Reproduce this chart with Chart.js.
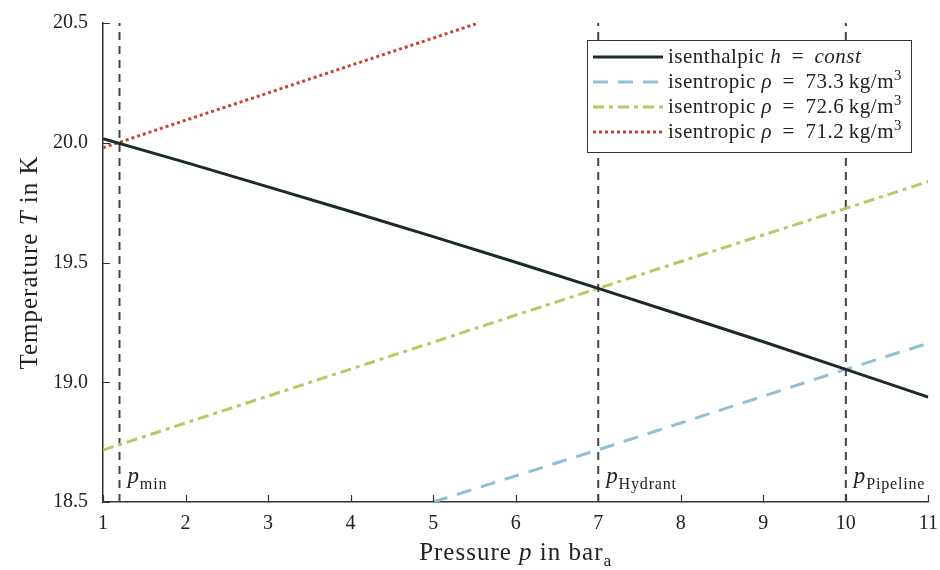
<!DOCTYPE html>
<html>
<head>
<meta charset="utf-8">
<script src="https://cdn.jsdelivr.net/npm/chart.js@4.4.0/dist/chart.umd.min.js"></script>
<style>
  html, body { margin: 0; padding: 0; background: #fff; }
  #wrap { width: 940px; height: 570px; }
</style>
</head>
<body>
<div id="wrap"><canvas id="myChart" width="940" height="570"></canvas></div>
<script>
// pressure in bar_a, temperature in K
const pressures = [1, 2, 3, 4, 5, 6, 7, 8, 9, 10, 11];
const isenthalpic = [20.017, 19.918, 19.816, 19.713, 19.608, 19.501, 19.392, 19.281, 19.169, 19.054, 18.938];

const p733 = [5, 6, 7, 8, 9, 10, 11];
const rho733 = [18.500, 18.609, 18.718, 18.830, 18.942, 19.054, 19.163];

const p726 = [1, 2, 3, 4, 5, 6, 7, 8, 9, 10, 11];
const rho726 = [18.717, 18.830, 18.942, 19.055, 19.167, 19.280, 19.392, 19.504, 19.615, 19.726, 19.838];

const p712 = [1, 2, 3, 4, 5, 5.55];
const rho712 = [19.979, 20.094, 20.208, 20.323, 20.437, 20.5];

const markPressures = [1.2, 7, 10];
const markNames = ['min', 'Hydrant', 'Pipeline'];

const xTicks = [1, 2, 3, 4, 5, 6, 7, 8, 9, 10, 11];
const yTicks = [18.5, 19.0, 19.5, 20.0, 20.5];

const FONT = '"Liberation Serif", "DejaVu Serif", serif';
const DARK = '#1c2a2a';
const BLUE = '#93bfd6';
const GREEN = '#b8c768';
const RED = '#c9442c';
const GREY = '#444444';

function pts(xs, ys) {
  const out = [];
  for (let i = 0; i < xs.length; i++) {
    out.push({ x: xs[i], y: ys[i] });
  }
  return out;
}

const datasets = [
  { label: 'isenthalpic', data: pts(pressures, isenthalpic), borderColor: DARK, borderWidth: 3 },
  { label: '73.3', data: pts(p733, rho733), borderColor: BLUE, borderWidth: 3, borderDash: [15, 10] },
  { label: '72.6', data: pts(p726, rho726), borderColor: GREEN, borderWidth: 3, borderDash: [11, 5, 4, 5] },
  { label: '71.2', data: pts(p712, rho712), borderColor: RED, borderWidth: 3, borderDash: [3, 3] }
];
for (let i = 0; i < markPressures.length; i++) {
  datasets.push({
    label: 'mark',
    data: [{ x: markPressures[i], y: 18.5 }, { x: markPressures[i], y: 20.5 }],
    borderColor: GREY, borderWidth: 2, borderDash: [8, 6]
  });
}

// rich text: segments {t, i: italic, sub, sup}
function setFont(ctx, s, size, spacing) {
  const fs = (s.sub || s.sup) ? size * 0.7 : size;
  ctx.font = (s.i ? 'italic ' : '') + fs + 'px ' + FONT;
  ctx.letterSpacing = spacing + 'px';
}
function drawRich(ctx, x, y, segs, size, spacing) {
  let cx = x;
  for (const s of segs) {
    let dy = 0;
    if (s.sub) dy = size * 0.25;
    if (s.sup) dy = -size * 0.38;
    setFont(ctx, s, size, spacing || 0);
    ctx.fillText(s.t, cx, y + dy);
    cx += ctx.measureText(s.t).width;
  }
  ctx.letterSpacing = '0px';
  return cx - x;
}
function richWidth(ctx, segs, size, spacing) {
  let w = 0;
  for (const s of segs) {
    setFont(ctx, s, size, spacing || 0);
    w += ctx.measureText(s.t).width;
  }
  ctx.letterSpacing = '0px';
  return w;
}

const EQ = '\u2009=\u2009';
const legendRows = [
  { ds: 0, segs: [{ t: 'isenthalpic ' }, { t: 'h', i: true }, { t: ' ' + EQ + ' ' }, { t: 'const', i: true }] },
  { ds: 1, segs: [{ t: 'isentropic ' }, { t: 'ρ', i: true }, { t: ' ' + EQ + ' 73.3\u2009kg/m' }, { t: '3', sup: true }] },
  { ds: 2, segs: [{ t: 'isentropic ' }, { t: 'ρ', i: true }, { t: ' ' + EQ + ' 72.6\u2009kg/m' }, { t: '3', sup: true }] },
  { ds: 3, segs: [{ t: 'isentropic ' }, { t: 'ρ', i: true }, { t: ' ' + EQ + ' 71.2\u2009kg/m' }, { t: '3', sup: true }] }
];

const extras = {
  id: 'extras',
  afterDatasetsDraw(chart) {
    const ctx = chart.ctx;
    const xs = chart.scales.x, ys = chart.scales.y;
    const area = chart.chartArea;
    ctx.save();
    ctx.fillStyle = '#222';
    ctx.textBaseline = 'alphabetic';

    // inward ticks
    ctx.strokeStyle = '#333';
    ctx.lineWidth = 1.2;
    ctx.beginPath();
    for (const v of xTicks) {
      const px = Math.round(xs.getPixelForValue(v)) + 0.5;
      ctx.moveTo(px, area.bottom);
      ctx.lineTo(px, area.bottom - 7);
    }
    for (const v of yTicks) {
      const py = Math.round(ys.getPixelForValue(v)) + 0.5;
      ctx.moveTo(area.left, py);
      ctx.lineTo(area.left + 7, py);
    }
    ctx.stroke();

    // labels of the marked pressures
    for (let i = 0; i < markPressures.length; i++) {
      const px = xs.getPixelForValue(markPressures[i]) + 8;
      drawRich(ctx, px, area.bottom - 19, [{ t: 'p', i: true }, { t: markNames[i], sub: true }], 23, 0.8);
    }

    // axis titles
    const xt = [{ t: 'Pressure ' }, { t: 'p', i: true }, { t: ' in bar' }, { t: 'a', sub: true }];
    const xw = richWidth(ctx, xt, 25, 1);
    drawRich(ctx, (area.left + area.right) / 2 - xw / 2, 560, xt, 25, 1);

    const yt = [{ t: 'Temperature ' }, { t: 'T', i: true }, { t: ' in K' }];
    const yw = richWidth(ctx, yt, 25, 1);
    ctx.save();
    ctx.translate(37, (area.top + area.bottom) / 2);
    ctx.rotate(-Math.PI / 2);
    drawRich(ctx, -yw / 2, 0, yt, 25, 1);
    ctx.restore();

    // legend box
    const bx = 587, by = 40, bw = 324, bh = 112;
    ctx.fillStyle = '#fff';
    ctx.fillRect(bx, by, bw, bh);
    ctx.strokeStyle = '#333';
    ctx.lineWidth = 1;
    ctx.strokeRect(bx + 0.5, by + 0.5, bw, bh);
    for (let r = 0; r < legendRows.length; r++) {
      const row = legendRows[r];
      const ds = chart.data.datasets[row.ds];
      const ly = by + 17 + r * 25;
      ctx.beginPath();
      ctx.setLineDash(ds.borderDash || []);
      ctx.strokeStyle = ds.borderColor;
      ctx.lineWidth = ds.borderWidth;
      ctx.moveTo(bx + 6, ly);
      ctx.lineTo(bx + 76, ly);
      ctx.stroke();
      ctx.setLineDash([]);
      ctx.fillStyle = '#222';
      drawRich(ctx, bx + 81, ly + 6, row.segs, 21, 0.5);
    }
    ctx.restore();
  }
};

const ctx = document.getElementById('myChart').getContext('2d');
new Chart(ctx, {
  type: 'line',
  data: { datasets: datasets },
  options: {
    responsive: false,
    animation: false,
    layout: { padding: { top: 23, right: 8, left: 0, bottom: 0 } },
    elements: { point: { radius: 0 }, line: { tension: 0, fill: false, borderCapStyle: 'butt' } },
    plugins: { legend: { display: false }, tooltip: { enabled: false } },
    scales: {
      x: {
        type: 'linear', min: 1, max: 11,
        afterFit(scale) { scale.height = 68; },
        afterBuildTicks(scale) { scale.ticks = xTicks.map(v => ({ value: v })); },
        grid: { display: false },
        border: { display: true, color: '#333', width: 1.5 },
        ticks: { color: '#222', padding: 2, font: { family: FONT, size: 20 } }
      },
      y: {
        type: 'linear', min: 18.5, max: 20.5,
        afterFit(scale) { scale.width = 103; },
        afterBuildTicks(scale) { scale.ticks = yTicks.map(v => ({ value: v })); },
        grid: { display: false },
        border: { display: true, color: '#333', width: 1.5 },
        ticks: {
          color: '#222', padding: 7, font: { family: FONT, size: 20 },
          callback: v => v.toFixed(1)
        }
      }
    }
  },
  plugins: [extras]
});
</script>
</body>
</html>
